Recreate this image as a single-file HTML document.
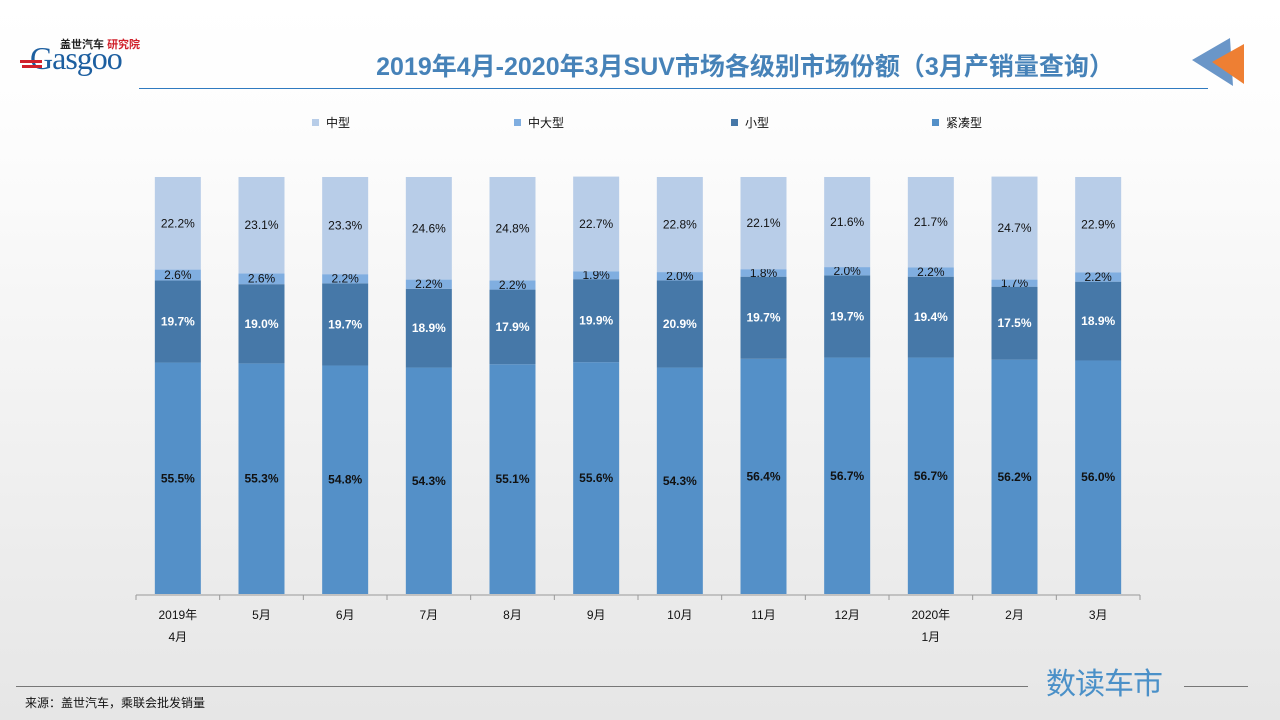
<!DOCTYPE html>
<html><head><meta charset="utf-8">
<style>
body{margin:0;width:1280px;height:720px;overflow:hidden;font-family:"Liberation Sans","Noto Sans CJK SC",sans-serif;background:linear-gradient(#ffffff 0px,#fdfdfd 120px,#e6e6e6 720px);position:relative}
.abs{position:absolute}
</style></head><body>
<div class="abs" style="left:20px;top:36px;width:120px;height:40px">
<div class="abs" style="left:40px;top:0;font-size:11px;font-weight:bold;color:#222;white-space:nowrap">盖世汽车 <span style="color:#d0202a">研究院</span></div>
<div class="abs" style="left:10px;top:4px;font-family:'Liberation Serif',serif;font-size:32px;color:#1d5fa0;letter-spacing:-1px;white-space:nowrap">Gasgoo</div>
<div class="abs" style="left:0;top:24px;width:22px;height:3px;background:#d0202a"></div>
<div class="abs" style="left:2px;top:29px;width:20px;height:3px;background:#d0202a"></div>
</div>
<div class="abs" style="left:300px;top:47px;width:890px;text-align:center;font-size:25px;font-weight:bold;color:#4682b8;white-space:nowrap">2019年4月-2020年3月SUV市场各级别市场份额（3月产销量查询）</div>
<div class="abs" style="left:139px;top:88px;width:1069px;height:1px;background:#2f7ac0"></div>
<svg class="abs" style="left:1190px;top:36px" width="60" height="50"><polygon points="2,24 40,2 43,50" fill="#6a96c8"/><polygon points="22,26 54,8 54,48" fill="#ee7f33"/></svg>
<svg id="chart" class="abs" style="left:0;top:0" width="1280" height="720"></svg>
<div class="abs" style="left:16px;top:686px;width:1012px;height:1px;background:#777"></div>
<div class="abs" style="left:1184px;top:686px;width:64px;height:1px;background:#777"></div>
<div class="abs" style="left:1046px;top:659px;font-size:30px;color:#4a90c8;letter-spacing:-1px">数读车市</div>
<div class="abs" style="left:25px;top:694px;font-size:12px;color:#111">来源：盖世汽车，乘联会批发销量</div>
<script>
const categories=["2019年\n4月","5月","6月","7月","8月","9月","10月","11月","12月","2020年\n1月","2月","3月"];
const compact=[55.5,55.3,54.8,54.3,55.1,55.6,54.3,56.4,56.7,56.7,56.2,56.0];
const small=[19.7,19.0,19.7,18.9,17.9,19.9,20.9,19.7,19.7,19.4,17.5,18.9];
const midLarge=[2.6,2.6,2.2,2.2,2.2,1.9,2.0,1.8,2.0,2.2,1.7,2.2];
const mid=[22.2,23.1,23.3,24.6,24.8,22.7,22.8,22.1,21.6,21.7,24.7,22.9];
const seriesNames=["中型","中大型","小型","紧凑型"];
const svg=document.getElementById('chart');const NS="http://www.w3.org/2000/svg";
const x0=136,x1=1140,yBase=594,yTop=177;
const step=(x1-x0)/categories.length,bw=46;
const y=v=>yBase-(v/100)*(yBase-yTop);
function mk(t,a){const e=document.createElementNS(NS,t);for(const k in a)e.setAttribute(k,a[k]);svg.appendChild(e);return e;}
const series=[{d:compact,c:"#5490c8",tc:"#111",fw:"bold",n:"compact"},{d:small,c:"#4678a8",tc:"#fff",fw:"bold",n:"small"},{d:midLarge,c:"#80aee0",tc:"#111",fw:"normal",n:"mid-large"},{d:mid,c:"#b8cde8",tc:"#111",fw:"normal",n:"mid"}];
categories.forEach((cat,i)=>{
 const cx=x0+step*(i+0.5);let cum=0;
 series.forEach(s=>{
  const v=s.d[i];const r=mk('rect',{x:cx-bw/2,y:y(cum+v),width:bw,height:y(cum)-y(cum+v),fill:s.c});
  
  
  const ty=(y(cum)+y(cum+v))/2+4;
  const t=mk('text',{x:cx,y:ty,'text-anchor':'middle','font-size':12,'font-weight':s.fw,fill:s.tc,'font-family':'Liberation Sans, sans-serif'});
  t.textContent=v.toFixed(1)+'%';
  
  
  cum+=v;
 });
 cat.split('\n').forEach((ln,j)=>{const t=mk('text',{x:cx,y:619+j*22,'text-anchor':'middle','font-size':12,fill:'#111'});t.textContent=ln;
  
  });
});
const ax=mk('line',{x1:x0,x2:x1,y1:yBase+1,y2:yBase+1,stroke:'#999'});


for(let i=0;i<=categories.length;i++){const tk=mk('line',{x1:x0+step*i,x2:x0+step*i,y1:yBase+1,y2:yBase+6,stroke:'#999'});
 
 }
const legX=[316,518,735,936],legC=["#b8cde8","#80aee0","#4678a8","#5490c8"];
seriesNames.forEach((n,i)=>{
 const r=mk('rect',{x:legX[i]-4,y:119,width:7,height:7,fill:legC[i]});
 
 
 const t=mk('text',{x:legX[i]+10,y:127,'font-size':12,fill:'#111'});t.textContent=n;
 
 
});
</script>
</body></html>
